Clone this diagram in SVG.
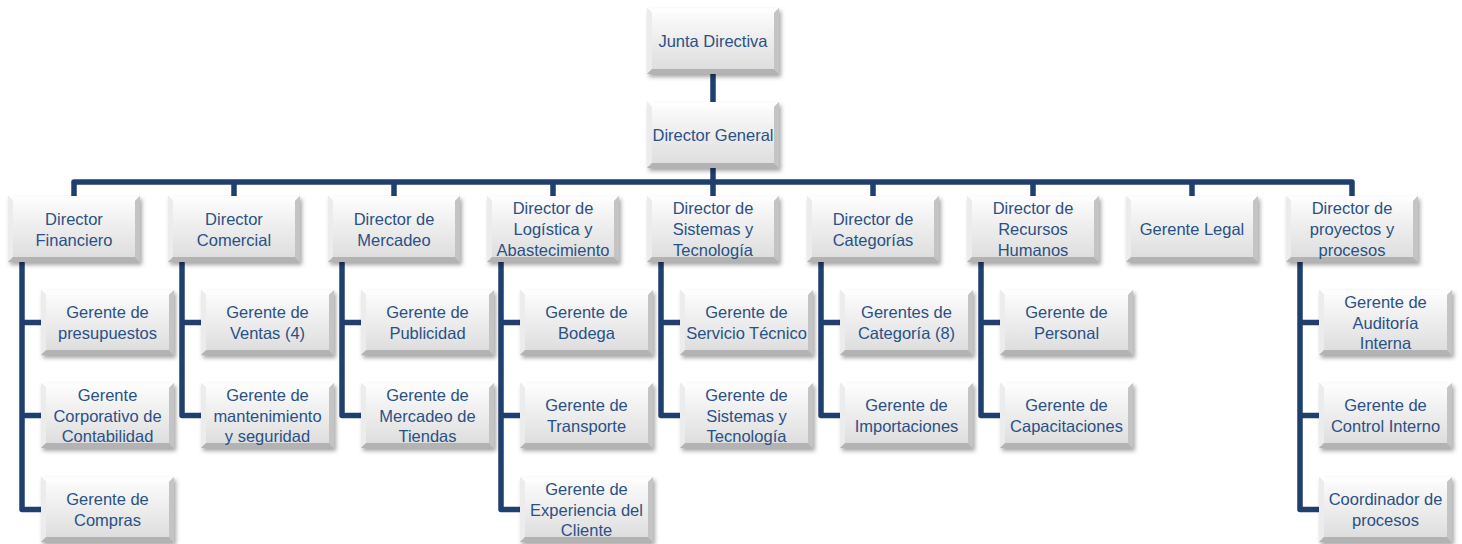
<svg xmlns="http://www.w3.org/2000/svg" xmlns:xlink="http://www.w3.org/1999/xlink" width="1462" height="544" viewBox="0 0 1462 544">
<defs>
<style>
.t{font-family:"Liberation Sans",Arial,sans-serif;font-size:16.5px;fill:#2A5185;text-anchor:middle}
.c{fill:none;stroke:#1F3F6F;stroke-width:5.5;stroke-linejoin:round}
.b{filter:url(#sh)}
</style>
<linearGradient id="face" x1="0" y1="0" x2="0" y2="1">
<stop offset="0" stop-color="#fbfbfb"/>
<stop offset="1" stop-color="#dedede"/>
</linearGradient>
<filter id="sh" x="-10%" y="-10%" width="125%" height="135%">
<feDropShadow dx="2" dy="3" stdDeviation="2" flood-color="#000" flood-opacity="0.35"/>
</filter>
<g id="box2">
<rect width="132" height="66" fill="#d9d9d9"/>
<polygon points="0,0 132,0 127,5 5,5" fill="#fdfdfd"/>
<polygon points="0,0 5,5 5,61 0,66" fill="#ececec"/>
<polygon points="132,0 132,66 127,61 127,5" fill="#c4c4c4"/>
<polygon points="0,66 5,61 127,61 132,66" fill="#b3b3b3"/>
<rect x="5" y="5" width="122" height="56" fill="url(#face)"/>
</g>
<g id="box3">
<rect width="133" height="65" fill="#d9d9d9"/>
<polygon points="0,0 133,0 128,5 5,5" fill="#fdfdfd"/>
<polygon points="0,0 5,5 5,60 0,65" fill="#ececec"/>
<polygon points="133,0 133,65 128,60 128,5" fill="#c4c4c4"/>
<polygon points="0,65 5,60 128,60 133,65" fill="#b3b3b3"/>
<rect x="5" y="5" width="123" height="55" fill="url(#face)"/>
</g>
</defs>
<rect width="1462" height="544" fill="#ffffff"/>

<g id="connectors">
<path class="c" d="M713 73V102"/>
<path class="c" d="M713 167V182"/>
<path class="c" d="M74 196V182H1352V196"/>
<path class="c" d="M234 182V196M394 182V196M553 182V196M713 182V196M873 182V196M1033 182V196M1192 182V196"/>
<path class="c" d="M22 262V509.5H41M22 322.5H41M22 415.5H41"/>
<path class="c" d="M182 262V415.5H201M182 322.5H201"/>
<path class="c" d="M342 262V415.5H361M342 322.5H361"/>
<path class="c" d="M501 262V509.5H520M501 322.5H520M501 415.5H520"/>
<path class="c" d="M661 262V415.5H680M661 322.5H680"/>
<path class="c" d="M821 262V415.5H840M821 322.5H840"/>
<path class="c" d="M981 262V415.5H1000M981 322.5H1000"/>
<path class="c" d="M1300 262V509.5H1319M1300 322.5H1319M1300 415.5H1319"/>
</g>

<g id="junta"><use class="b" href="#box2" x="647" y="8"/><text class="t" x="713" y="46.5">Junta Directiva</text></g>
<g id="director-general"><use class="b" href="#box2" x="647" y="102"/><text class="t" x="713" y="140.5">Director General</text></g>

<g id="dir-financiero"><use class="b" href="#box2" x="8" y="196"/><text class="t" x="74" y="224.5">Director</text><text class="t" x="74" y="245.5">Financiero</text></g>
<g id="dir-comercial"><use class="b" href="#box2" x="168" y="196"/><text class="t" x="234" y="224.5">Director</text><text class="t" x="234" y="245.5">Comercial</text></g>
<g id="dir-mercadeo"><use class="b" href="#box2" x="328" y="196"/><text class="t" x="394" y="224.5">Director de</text><text class="t" x="394" y="245.5">Mercadeo</text></g>
<g id="dir-logistica"><use class="b" href="#box2" x="487" y="196"/><text class="t" x="553" y="214">Director de</text><text class="t" x="553" y="235">Logística y</text><text class="t" x="553" y="256">Abastecimiento</text></g>
<g id="dir-sistemas"><use class="b" href="#box2" x="647" y="196"/><text class="t" x="713" y="214">Director de</text><text class="t" x="713" y="235">Sistemas y</text><text class="t" x="713" y="256">Tecnología</text></g>
<g id="dir-categorias"><use class="b" href="#box2" x="807" y="196"/><text class="t" x="873" y="224.5">Director de</text><text class="t" x="873" y="245.5">Categorías</text></g>
<g id="dir-rrhh"><use class="b" href="#box2" x="967" y="196"/><text class="t" x="1033" y="214">Director de</text><text class="t" x="1033" y="235">Recursos</text><text class="t" x="1033" y="256">Humanos</text></g>
<g id="gerente-legal"><use class="b" href="#box2" x="1126" y="196"/><text class="t" x="1192" y="235">Gerente Legal</text></g>
<g id="dir-proyectos"><use class="b" href="#box2" x="1286" y="196"/><text class="t" x="1352" y="214">Director de</text><text class="t" x="1352" y="235">proyectos y</text><text class="t" x="1352" y="256">procesos</text></g>

<g id="g-presupuestos"><use class="b" href="#box3" x="41" y="290"/><text class="t" x="107.5" y="318">Gerente de</text><text class="t" x="107.5" y="339">presupuestos</text></g>
<g id="g-contabilidad"><use class="b" href="#box3" x="41" y="383"/><text class="t" x="107.5" y="401">Gerente</text><text class="t" x="107.5" y="421.5">Corporativo de</text><text class="t" x="107.5" y="442">Contabilidad</text></g>
<g id="g-compras"><use class="b" href="#box3" x="41" y="477"/><text class="t" x="107.5" y="505">Gerente de</text><text class="t" x="107.5" y="526">Compras</text></g>

<g id="g-ventas"><use class="b" href="#box3" x="201" y="290"/><text class="t" x="267.5" y="318">Gerente de</text><text class="t" x="267.5" y="339">Ventas (4)</text></g>
<g id="g-mantenimiento"><use class="b" href="#box3" x="201" y="383"/><text class="t" x="267.5" y="401">Gerente de</text><text class="t" x="267.5" y="421.5">mantenimiento</text><text class="t" x="267.5" y="442">y seguridad</text></g>

<g id="g-publicidad"><use class="b" href="#box3" x="361" y="290"/><text class="t" x="427.5" y="318">Gerente de</text><text class="t" x="427.5" y="339">Publicidad</text></g>
<g id="g-mercadeo-tiendas"><use class="b" href="#box3" x="361" y="383"/><text class="t" x="427.5" y="401">Gerente de</text><text class="t" x="427.5" y="421.5">Mercadeo de</text><text class="t" x="427.5" y="442">Tiendas</text></g>

<g id="g-bodega"><use class="b" href="#box3" x="520" y="290"/><text class="t" x="586.5" y="318">Gerente de</text><text class="t" x="586.5" y="339">Bodega</text></g>
<g id="g-transporte"><use class="b" href="#box3" x="520" y="383"/><text class="t" x="586.5" y="411">Gerente de</text><text class="t" x="586.5" y="432">Transporte</text></g>
<g id="g-experiencia"><use class="b" href="#box3" x="520" y="477"/><text class="t" x="586.5" y="495">Gerente de</text><text class="t" x="586.5" y="515.5">Experiencia del</text><text class="t" x="586.5" y="536">Cliente</text></g>

<g id="g-servicio"><use class="b" href="#box3" x="680" y="290"/><text class="t" x="746.5" y="318">Gerente de</text><text class="t" x="746.5" y="339">Servicio Técnico</text></g>
<g id="g-sistemas"><use class="b" href="#box3" x="680" y="383"/><text class="t" x="746.5" y="401">Gerente de</text><text class="t" x="746.5" y="421.5">Sistemas y</text><text class="t" x="746.5" y="442">Tecnología</text></g>

<g id="g-categoria"><use class="b" href="#box3" x="840" y="290"/><text class="t" x="906.5" y="318">Gerentes de</text><text class="t" x="906.5" y="339">Categoría (8)</text></g>
<g id="g-importaciones"><use class="b" href="#box3" x="840" y="383"/><text class="t" x="906.5" y="411">Gerente de</text><text class="t" x="906.5" y="432">Importaciones</text></g>

<g id="g-personal"><use class="b" href="#box3" x="1000" y="290"/><text class="t" x="1066.5" y="318">Gerente de</text><text class="t" x="1066.5" y="339">Personal</text></g>
<g id="g-capacitaciones"><use class="b" href="#box3" x="1000" y="383"/><text class="t" x="1066.5" y="411">Gerente de</text><text class="t" x="1066.5" y="432">Capacitaciones</text></g>

<g id="g-auditoria"><use class="b" href="#box3" x="1319" y="290"/><text class="t" x="1385.5" y="308">Gerente de</text><text class="t" x="1385.5" y="328.5">Auditoría</text><text class="t" x="1385.5" y="349">Interna</text></g>
<g id="g-control"><use class="b" href="#box3" x="1319" y="383"/><text class="t" x="1385.5" y="411">Gerente de</text><text class="t" x="1385.5" y="432">Control Interno</text></g>
<g id="coord-procesos"><use class="b" href="#box3" x="1319" y="477"/><text class="t" x="1385.5" y="505">Coordinador de</text><text class="t" x="1385.5" y="526">procesos</text></g>
</svg>
